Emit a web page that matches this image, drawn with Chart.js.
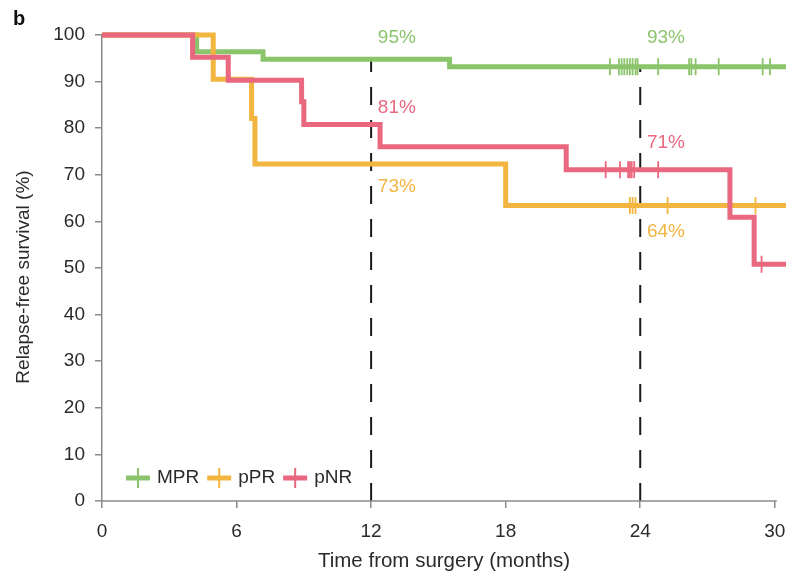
<!DOCTYPE html>
<html>
<head>
<meta charset="utf-8">
<script src="https://cdn.jsdelivr.net/npm/chart.js@4"></script>
<style>
  html, body { margin: 0; padding: 0; background: #fff; }
  #wrap { width: 789px; height: 577px; }
</style>
</head>
<body>
<div id="wrap"><canvas id="kmChart" width="789" height="577"></canvas></div>
<script>
// Kaplan-Meier steps: time of each event (months) and survival after it (%)
const mprTimes = [0, 4.22, 7.18, 15.5, 30.5];
const mprSurv = [100, 96.4, 94.8, 93.2, 93.2];
const pprTimes = [0, 4.96, 6.67, 6.82, 18.0, 30.5];
const pprSurv = [100, 90.5, 82.1, 72.3, 63.4, 63.4];
const pnrTimes = [0, 4.04, 5.63, 8.9, 9.0, 12.4, 20.7, 28.0, 29.08, 30.5];
const pnrSurv = [100, 95.2, 90.3, 85.7, 80.8, 76.0, 71.1, 60.9, 50.8, 50.8];

// censored patients (months)
const mprCensored = [22.65, 23.05, 23.17, 23.29, 23.42, 23.54, 23.66, 23.79, 23.88, 24.8, 26.18, 26.28, 26.47, 27.5, 29.46, 29.79];
const pprCensored = [23.54, 23.66, 23.79, 25.22, 29.14];
const pnrCensored = [22.46, 23.1, 23.46, 23.54, 23.62, 23.73, 24.8, 29.41];

// landmark times and the survival labels shown there
const landmarkMonths = [12, 24];
const annotText = ["95%", "93%", "81%", "71%", "73%", "64%"];
const annotGroup = ["MPR", "MPR", "pNR", "pNR", "pPR", "pPR"];
const annotX = [12.3, 24.3, 12.3, 24.3, 12.3, 24.3];
const annotY = [99.3, 99.3, 84.3, 76.8, 67.4, 57.8];

const groupNames = ["MPR", "pPR", "pNR"];
const xTicks = [0, 6, 12, 18, 24, 30];
const yTicks = [0, 10, 20, 30, 40, 50, 60, 70, 80, 90, 100];

const colors = { MPR: "#8cc46c", pPR: "#f2b53f", pNR: "#e9687f" };
const axisColor = "#8a8a8a";
const textColor = "#2a2a2a";
const fontFamily = "'Liberation Sans', Arial, Helvetica, sans-serif";

function toPoints(times, surv) {
    return times.map((t, i) => ({ x: t, y: surv[i] }));
}

// survival value of a step curve at time t
function survAt(times, surv, t) {
    let s = surv[0];
    for (let i = 0; i < times.length; i++) {
        if (times[i] <= t) s = surv[i];
    }
    return s;
}

function kmLine(name, times, surv, order) {
    return {
        label: name,
        data: toPoints(times, surv),
        borderColor: colors[name],
        borderWidth: 5,
        stepped: true,
        pointRadius: 0,
        pointHoverRadius: 0,
        fill: false,
        clip: false,
        borderCapStyle: "butt",
        borderJoinStyle: "miter",
        order: order,
    };
}

function censorMarks(name, censored, times, surv, order) {
    return {
        label: name + " censored",
        data: censored.map((t) => ({ x: t, y: survAt(times, surv, t) })),
        showLine: false,
        pointStyle: "line",
        rotation: 90,
        pointRadius: 8.5,
        pointHoverRadius: 8.5,
        pointBorderWidth: 1.8,
        pointBorderColor: colors[name],
        borderColor: colors[name],
        clip: false,
        order: order,
    };
}

const datasets = [
    kmLine("pNR", pnrTimes, pnrSurv, 3),
    kmLine("pPR", pprTimes, pprSurv, 4),
    kmLine("MPR", mprTimes, mprSurv, 5),
    censorMarks("pNR", pnrCensored, pnrTimes, pnrSurv, 0),
    censorMarks("pPR", pprCensored, pprTimes, pprSurv, 1),
    censorMarks("MPR", mprCensored, mprTimes, mprSurv, 2),
];

// dashed landmark lines, from 0 up to the MPR curve
landmarkMonths.forEach((m) => {
    datasets.push({
        label: "landmark " + m,
        data: [{ x: m, y: 0 }, { x: m, y: survAt(mprTimes, mprSurv, m) }],
        borderColor: "#1a1a1a",
        borderWidth: 2,
        borderDash: [18, 15],
        pointRadius: 0,
        pointHoverRadius: 0,
        fill: false,
        order: 6,
    });
});

const decorPlugin = {
    id: "decor",
    afterDraw(chart) {
        const ctx = chart.ctx;
        const xs = chart.scales.x;
        const ys = chart.scales.y;
        ctx.save();

        // x axis line, ends at the last tick
        ctx.strokeStyle = axisColor;
        ctx.lineWidth = 1.5;
        ctx.beginPath();
        ctx.moveTo(xs.getPixelForValue(0), ys.getPixelForValue(0));
        ctx.lineTo(xs.getPixelForValue(30) + 2, ys.getPixelForValue(0));
        ctx.stroke();

        // y axis title, sits a little below the axis middle
        ctx.save();
        ctx.translate(24, 277);
        ctx.rotate(-Math.PI / 2);
        ctx.font = "19px " + fontFamily;
        ctx.fillStyle = textColor;
        ctx.textAlign = "center";
        ctx.textBaseline = "middle";
        ctx.fillText("Relapse-free survival (%)", 0, 0);
        ctx.restore();

        // survival labels at the landmarks
        ctx.font = "19px " + fontFamily;
        ctx.textAlign = "left";
        ctx.textBaseline = "middle";
        annotText.forEach((txt, i) => {
            ctx.fillStyle = colors[annotGroup[i]];
            ctx.fillText(txt, xs.getPixelForValue(annotX[i]), ys.getPixelForValue(annotY[i]));
        });

        // legend inside the plot, bottom left
        let lx = chart.chartArea.left + 24;
        const ly = chart.chartArea.bottom - 23;
        ctx.font = "19px " + fontFamily;
        groupNames.forEach((name) => {
            ctx.strokeStyle = colors[name];
            ctx.lineWidth = 5;
            ctx.beginPath();
            ctx.moveTo(lx, ly);
            ctx.lineTo(lx + 24, ly);
            ctx.stroke();
            ctx.lineWidth = 2;
            ctx.beginPath();
            ctx.moveTo(lx + 12, ly - 10);
            ctx.lineTo(lx + 12, ly + 10);
            ctx.stroke();
            ctx.fillStyle = textColor;
            ctx.fillText(name, lx + 31, ly);
            lx += 31 + ctx.measureText(name).width + 8;
        });

        // panel letter
        ctx.font = "bold 20px " + fontFamily;
        ctx.fillStyle = "#111";
        ctx.textBaseline = "alphabetic";
        ctx.fillText("b", 13, 25);
        ctx.restore();
    },
};

new Chart(document.getElementById("kmChart").getContext("2d"), {
    type: "line",
    data: { datasets: datasets },
    options: {
        responsive: false,
        animation: false,
        devicePixelRatio: 1,
        layout: {
            autoPadding: false,
            padding: { left: 0, top: 35, right: 3, bottom: 0 },
        },
        scales: {
            x: {
                type: "linear",
                min: 0,
                max: 30.5,
                afterBuildTicks: (s) => { s.ticks = xTicks.map((v) => ({ value: v })); },
                afterFit: (s) => {
                    s.height = 76;
                    s.paddingLeft = 0;
                    s.paddingRight = 0;
                },
                ticks: {
                    color: textColor,
                    padding: 12,
                    font: { family: fontFamily, size: 19 },
                    maxRotation: 0,
                },
                grid: {
                    drawOnChartArea: false,
                    tickLength: 7,
                    color: axisColor,
                    lineWidth: 1.5,
                },
                border: { display: false },
                title: {
                    display: true,
                    text: "Time from surgery (months)",
                    color: textColor,
                    font: { family: fontFamily, size: 20.5 },
                    padding: { top: 0, bottom: 3 },
                },
            },
            y: {
                min: 0,
                max: 100,
                afterBuildTicks: (s) => { s.ticks = yTicks.map((v) => ({ value: v })); },
                afterFit: (s) => { s.width = 102; },
                ticks: {
                    color: textColor,
                    padding: 10,
                    font: { family: fontFamily, size: 19 },
                },
                grid: {
                    drawOnChartArea: false,
                    tickLength: 7,
                    color: axisColor,
                    lineWidth: 1.5,
                },
                border: { display: true, color: axisColor, width: 1.5 },
                title: { display: false },
            },
        },
        plugins: {
            legend: { display: false },
            tooltip: { enabled: false },
        },
    },
    plugins: [decorPlugin],
});
</script>
</body>
</html>
